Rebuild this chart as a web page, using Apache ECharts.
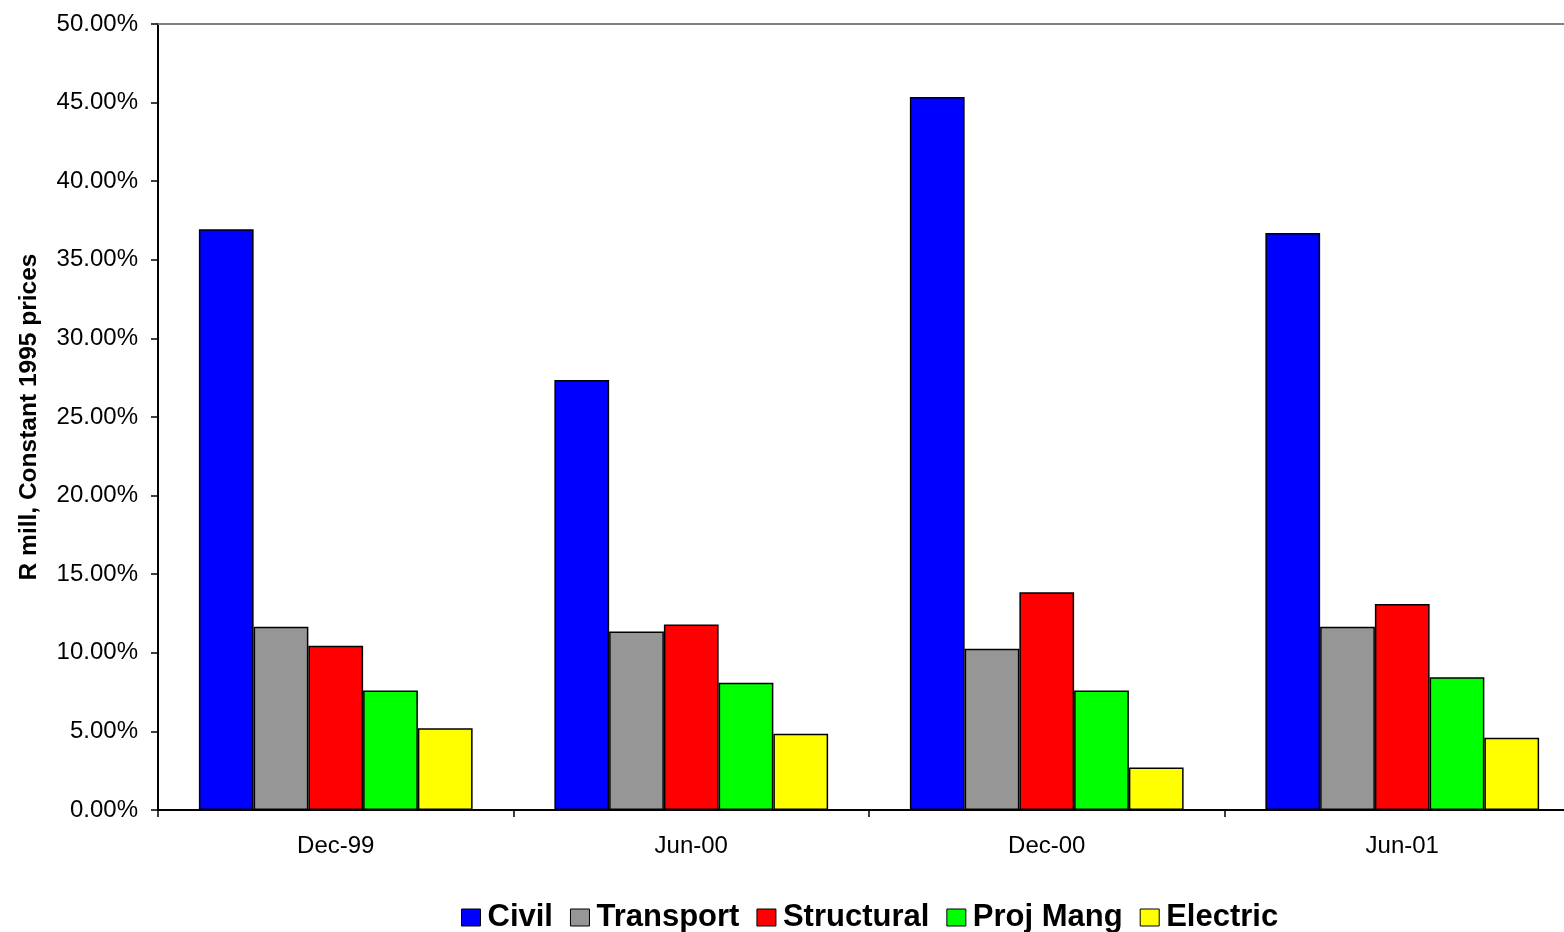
<!DOCTYPE html>
<html>
<head>
<meta charset="utf-8">
<script src="https://cdn.jsdelivr.net/npm/echarts@6/dist/echarts.min.js"></script>
<style>
  html, body { margin: 0; padding: 0; background: #fff; overflow: hidden; }
  #chart { width: 1564px; height: 932px; }
</style>
</head>
<body>
<div id="chart"></div>
<script>
// Periods on the category axis
const periods = ['Dec-99', 'Jun-00', 'Dec-00', 'Jun-01'];

// Share per discipline, in percent
const civil      = [36.95, 27.35, 45.35, 36.70];
const transport  = [11.65, 11.35, 10.25, 11.65];
const structural = [10.45, 11.80, 13.85, 13.10];
const projMang   = [7.60, 8.10, 7.60, 8.45];
const electric   = [5.20, 4.85, 2.70, 4.60];

const seriesNames  = ['Civil', 'Transport', 'Structural', 'Proj Mang', 'Electric'];
const seriesValues = [civil, transport, structural, projMang, electric];
const seriesColors = ['#0000ff', '#969696', '#ff0000', '#00ff00', '#ffff00'];

const chart = echarts.init(document.getElementById('chart'), null, { renderer: 'canvas' });

const font = 'Arial, "Liberation Sans", sans-serif';

chart.setOption({
  animation: false,
  backgroundColor: '#ffffff',
  grid: { left: 158, top: 24, right: -16, bottom: 122, containLabel: false, outerBoundsMode: 'none' },
  legend: {
    top: 897,
    left: 456,
    itemWidth: 19,
    itemHeight: 17,
    itemGap: 17,
    icon: 'rect',
    itemStyle: { borderColor: '#000', borderWidth: 1 },
    textStyle: { fontFamily: font, fontSize: 31, fontWeight: 'bold', color: '#000', padding: [0, 0, 0, 2] },
    data: seriesNames
  },
  xAxis: [{
    type: 'category',
    data: periods,
    position: 'bottom',
    axisLine: { lineStyle: { color: '#000', width: 2 } },
    axisTick: { show: true, alignWithLabel: false, length: 7, inside: false, lineStyle: { color: '#000', width: 1.5 } },
    axisLabel: { fontFamily: font, fontSize: 24, color: '#000', margin: 24 },
    splitLine: { show: false }
  }, {
    // top edge of the plot area
    type: 'category',
    data: periods,
    position: 'top',
    axisLine: { lineStyle: { color: '#808080', width: 2 } },
    axisTick: { show: false },
    axisLabel: { show: false }
  }],
  yAxis: {
    type: 'value',
    min: 0,
    max: 50,
    interval: 5,
    name: 'R mill, Constant 1995 prices',
    nameLocation: 'middle',
    nameGap: 116,
    nameTextStyle: { fontFamily: font, fontSize: 24.5, fontWeight: 'bold', color: '#000' },
    axisLine: { show: true, lineStyle: { color: '#000', width: 2 } },
    axisTick: { show: true, length: 7, lineStyle: { color: '#000', width: 1.5 } },
    axisLabel: {
      fontFamily: font, fontSize: 24, color: '#000', margin: 20,
      formatter: v => v.toFixed(2) + '%'
    },
    splitLine: { show: false }
  },
  series: seriesNames.map((name, i) => ({
    name,
    type: 'bar',
    data: seriesValues[i],
    barGap: '0%',
    barCategoryGap: '23%',
    itemStyle: { color: seriesColors[i], borderColor: '#000', borderWidth: 1.5 }
  }))
});
</script>
</body>
</html>
